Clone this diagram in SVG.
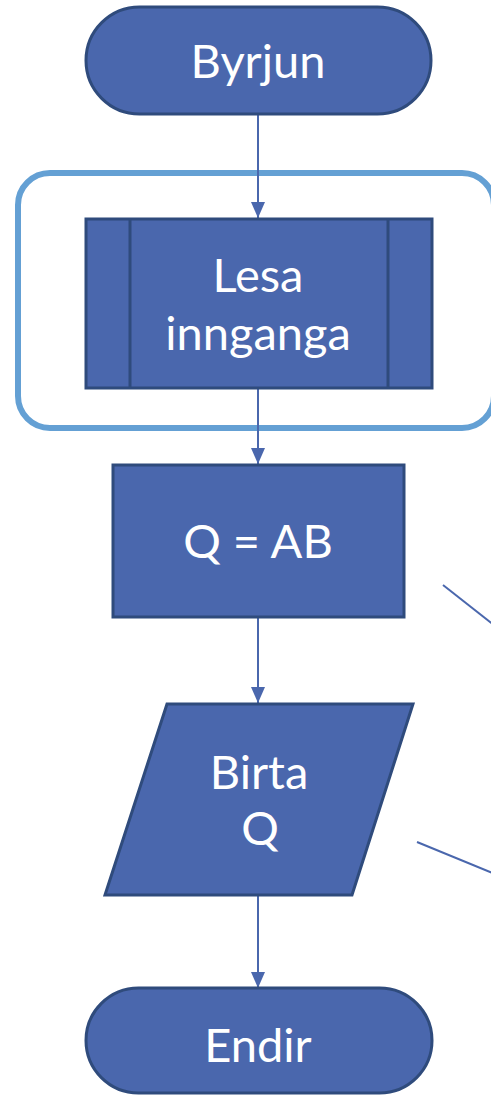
<svg xmlns="http://www.w3.org/2000/svg" width="491" height="1095" viewBox="0 0 491 1095">
<style>
.shape{fill:#4A67AD;stroke:#2F4B7C;stroke-width:3}
.lbl{fill:#FFFFFF;font-family:Lato,"Open Sans","DejaVu Sans",sans-serif;font-size:47px;text-anchor:middle}
.conn{stroke:#4A67AD;stroke-width:2;fill:none}
</style>
<defs>
<marker id="arr" markerWidth="16" markerHeight="14" refX="16" refY="7" orient="auto" markerUnits="userSpaceOnUse">
<path d="M0,0 L16,7 L0,14 Z" fill="#4A67AD"/>
</marker>
</defs>
<rect x="0" y="0" width="491" height="1095" fill="#FFFFFF"/>
<g id="group-box">
<rect x="18" y="173" width="476" height="255" rx="32" ry="32" fill="none" stroke="#64A0D4" stroke-width="6"/>
</g>
<g id="connectors">
<line class="conn" x1="258" y1="114" x2="258" y2="218" marker-end="url(#arr)"/>
<line class="conn" x1="258" y1="388" x2="258" y2="464" marker-end="url(#arr)"/>
<line class="conn" x1="258" y1="617" x2="258" y2="703" marker-end="url(#arr)"/>
<line class="conn" x1="258" y1="895" x2="258" y2="988" marker-end="url(#arr)"/>
<line class="conn" x1="443" y1="585" x2="495" y2="626"/>
<line class="conn" x1="417" y1="842" x2="495" y2="874"/>
</g>
<g id="node-start">
<rect class="shape" x="86" y="7" width="345" height="107" rx="53.5" ry="53.5"/>
<text class="lbl" x="258" y="78">Byrjun</text>
</g>
<g id="node-read">
<rect class="shape" x="86" y="219" width="346" height="169"/>
<line x1="130" y1="219" x2="130" y2="388" stroke="#2F4B7C" stroke-width="3"/>
<line x1="388" y1="219" x2="388" y2="388" stroke="#2F4B7C" stroke-width="3"/>
<text class="lbl" x="258" y="292">Lesa</text>
<text class="lbl" x="258" y="350">innganga</text>
</g>
<g id="node-calc">
<rect class="shape" x="113" y="465" width="291" height="152"/>
<text class="lbl" x="258" y="558">Q = AB</text>
</g>
<g id="node-output">
<polygon class="shape" points="167,704 413,704 352,895 105,895"/>
<text class="lbl" x="259" y="789">Birta</text>
<text class="lbl" x="260" y="845">Q</text>
</g>
<g id="node-end">
<rect class="shape" x="86" y="988" width="346" height="105" rx="52.5" ry="52.5"/>
<text class="lbl" x="258" y="1062">Endir</text>
</g>
</svg>
